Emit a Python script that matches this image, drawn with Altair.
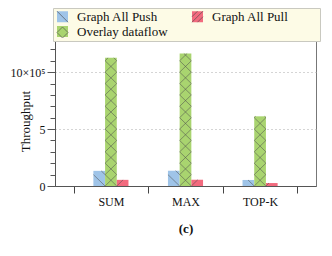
import math
import altair as alt
import pandas as pd

# ---- data (values in units of 10^5) ----
groups = ["SUM", "MAX", "TOP-K"]
series_bar_order = ["Graph All Push", "Overlay dataflow", "Graph All Pull"]
series_legend_order = ["Graph All Push", "Graph All Pull", "Overlay dataflow"]
push_vals = [1.33, 1.35, 0.53]
overlay_vals = [11.26, 11.64, 6.12]
pull_vals = [0.54, 0.55, 0.26]
y_tick_values = list(range(0, 13))

# ---- styles ----
colors = {"Graph All Push": "#9fc4e8", "Graph All Pull": "#f26a7e", "Overlay dataflow": "#a9d46f"}
hatch = {"Graph All Push": ["back"], "Graph All Pull": ["fwd"], "Overlay dataflow": ["fwd", "back"]}
hatch_symbol = {
    "Graph All Push": "M-1,-1L1,1",
    "Graph All Pull": "M-1,1L1,-1M-1,0L0,-1M0,1L1,0",
    "Overlay dataflow": "M-1,0L0,-1L1,0L0,1Z",
}
FONT = "Liberation Serif"
W, H = 261, 148
OUTER = 0.25           # band padding of groups
OFF_OUTER = 0.687      # band padding of bars within group
SPACERS = 1            # empty slots on each side of the bar cluster
PERIOD = 1.0           # hatch period in y units
HATCH_COLOR = "#4d4d4d"

offset_domain = ["_l"] + series_bar_order + ["_r"]

vals = {"Graph All Push": push_vals, "Overlay dataflow": overlay_vals, "Graph All Pull": pull_vals}
rows = []
for gi, g in enumerate(groups):
    for s in series_bar_order:
        rows.append({"group": g, "gi": gi, "series": s, "si": series_bar_order.index(s),
                     "value": vals[s][gi]})
df = pd.DataFrame(rows)

# hatch segments derived from bar values (in data units)
nslots = len(offset_domain)
bw = 1.0 / (nslots + 2 * OFF_OUTER)
seg = []
for r in rows:
    xl = r["gi"] - 0.5 + (OFF_OUTER + SPACERS + r["si"]) * bw
    xr = xl + bw
    v = r["value"]
    n = math.ceil(v / PERIOD)
    for k in range(n):
        ya, yb = k * PERIOD, (k + 1) * PERIOD
        for d in hatch[r["series"]]:
            if d == "fwd":
                x1, y1, x2, y2 = xl, ya, xr, yb
                if yb > v:
                    x2 = xl + (v - ya) / PERIOD * bw
                    y2 = v
            else:
                x1, y1, x2, y2 = xl, yb, xr, ya
                if yb > v:
                    x1 = xl + (yb - v) / PERIOD * bw
                    y1 = v
            seg.append({"hx": x1, "hy": y1, "hx2": x2, "hy2": y2})
seg_df = pd.DataFrame(seg)

yscale = alt.Scale(domain=[0, 13], nice=False, zero=True)

label_expr = ("datum.value == 10 ? '10×10⁵' : datum.value == 5 ? '5' : "
              "datum.value == 0 ? '0' : ''")
legend_label_expr = ("datum.label == 'Graph All Pull' ? "
                     "datum.label + '\u2003\u2003\u00a0\u200b' : datum.label")

legend_common = dict(orient="none", legendX=-2, legendY=-30, columns=2,
                     direction="horizontal", title=None, padding=2,
                     symbolSize=121, symbolOffset=1, labelFontSize=13, labelOffset=8,
                     columnPadding=22, rowPadding=1, labelExpr=legend_label_expr)

bars = alt.Chart(df).mark_bar().encode(
    x=alt.X("group:N", sort=groups,
            scale=alt.Scale(paddingInner=0, paddingOuter=OUTER, round=False),
            axis=alt.Axis(title="(c)", titleFontWeight="bold", titleFontSize=13,
                          titlePadding=15, labelAngle=0, labelFontSize=12,
                          labelPadding=3, tickBand="extent", tickSize=7,
                          tickColor="#444", domainColor="#555", labelColor="#111",
                          titleColor="#111")),
    xOffset=alt.XOffset("series:N",
                        scale=alt.Scale(domain=offset_domain, paddingInner=0,
                                        paddingOuter=OFF_OUTER, round=False)),
    y=alt.Y("value:Q", scale=yscale,
            axis=alt.Axis(title="Throughput", titleFontSize=13, titleFontWeight="normal",
                          titleX=-23, titleY=83, titleColor="#111",
                          values=y_tick_values, labelExpr=label_expr, labelFontSize=12,
                          labelColor="#111", labelPadding=2,
                          tickSize={"condition": {"test": "datum.value % 5 === 0", "value": 8}, "value": 5},
                          tickColor="#555", domainColor="#555",
                          grid=True, gridDash=[1, 3], gridColor="#aaa",
                          gridOpacity={"condition": {"test": "datum.value % 5 === 0 && datum.value > 0", "value": 1}, "value": 0})),
    color=alt.Color("series:N",
                    scale=alt.Scale(domain=series_legend_order,
                                    range=[colors[s] for s in series_legend_order]),
                    legend=alt.Legend(fillColor="#fdfbe6", strokeColor="#c9c9c0",
                                      symbolType="square", symbolStrokeWidth=0,
                                      labelColor="#111", **legend_common)),
)

hatch_layer = alt.Chart(seg_df).mark_rule(color=HATCH_COLOR, strokeWidth=0.7, opacity=0.75).encode(
    x=alt.X("hx:Q", scale=alt.Scale(domain=[-0.5 - OUTER, len(groups) - 0.5 + OUTER], nice=False, zero=False), axis=None),
    x2="hx2:Q",
    y=alt.Y("hy:Q", scale=yscale, axis=None),
    y2="hy2:Q",
)

# invisible layer that only carries the hatch symbols of the legend
hatch_legend = alt.Chart(df).mark_point(opacity=0, filled=False, color=HATCH_COLOR).encode(
    y=alt.Y("value:Q", scale=yscale, axis=None),
    shape=alt.Shape("series:N", sort=series_legend_order,
                    scale=alt.Scale(range=[hatch_symbol[s] for s in series_legend_order]),
                    legend=alt.Legend(labelOpacity=0, symbolStrokeColor=HATCH_COLOR,
                                      symbolFillColor="transparent", symbolStrokeWidth=0.8,
                                      symbolOpacity=0.8, **legend_common)),
)

chart = alt.layer(bars, hatch_layer, hatch_legend).resolve_scale(x="independent").resolve_axis(
    x="independent", y="independent"
).properties(
    width=W, height=H,
    autosize=alt.AutoSizeParams(type="none"),
    padding={"left": 47, "top": 30, "right": 8, "bottom": 62},
).configure(font=FONT).configure_view(stroke="#777", strokeWidth=1)

chart.save("out.html", embed_options={"renderer": "svg", "actions": False})
